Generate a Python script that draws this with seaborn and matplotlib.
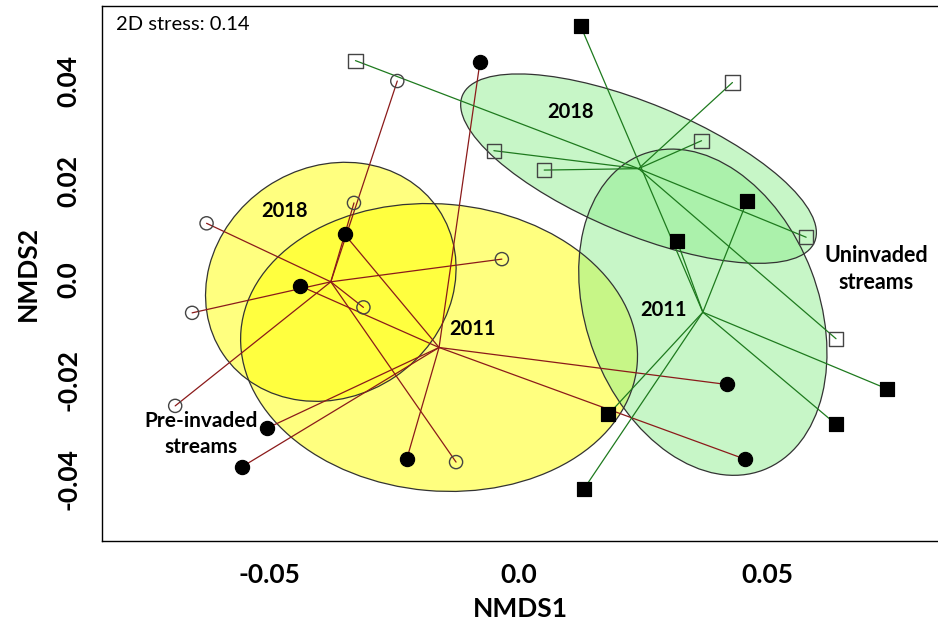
import numpy as np
import pandas as pd
import matplotlib
matplotlib.use("Agg")
import matplotlib.pyplot as plt
from matplotlib.patches import Ellipse
import seaborn as sns

# Coordenadas NMDS
pre_2011_x = [-0.0077, -0.0349, -0.0438, -0.0505, -0.0554, -0.0224, 0.0419, 0.0455]
pre_2011_y = [0.0438, 0.0092, -0.0012, -0.0298, -0.0375, -0.0360, -0.0210, -0.0360]

pre_2018_x = [-0.0243, -0.0330, -0.0626, -0.0033, -0.0311, -0.0655, -0.0689, -0.0125]
pre_2018_y = [0.0400, 0.0155, 0.0114, 0.0042, -0.0055, -0.0066, -0.0253, -0.0366]

uni_2011_x = [0.0125, 0.0459, 0.0319, 0.0741, 0.0181, 0.0638, 0.0131]
uni_2011_y = [0.0511, 0.0158, 0.0078, -0.0219, -0.0270, -0.0290, -0.0421]

uni_2018_x = [-0.0327, -0.0049, 0.0052, 0.0430, 0.0368, 0.0578, 0.0638]
uni_2018_y = [0.0441, 0.0260, 0.0221, 0.0397, 0.0280, 0.0086, -0.0118]

x_ticks = [-0.05, 0.0, 0.05]
x_tick_labels = ["-0.05", "0.0", "0.05"]
y_ticks = [-0.04, -0.02, 0.0, 0.02, 0.04]
y_tick_labels = ["-0.04", "-0.02", "0.0", "0.02", "0.04"]

# Armar el DataFrame
frames = []
for stream, year, xs, ys in [("Pre-invaded", 2011, pre_2011_x, pre_2011_y),
                             ("Pre-invaded", 2018, pre_2018_x, pre_2018_y),
                             ("Uninvaded", 2011, uni_2011_x, uni_2011_y),
                             ("Uninvaded", 2018, uni_2018_x, uni_2018_y)]:
    frames.append(pd.DataFrame({"NMDS1": xs, "NMDS2": ys, "stream": stream, "year": year}))
df = pd.concat(frames, ignore_index=True)

sns.set_style("white")
plt.rcParams["font.family"] = ["Lato", "DejaVu Sans"]
plt.rcParams["text.color"] = "black"
plt.rcParams["axes.labelcolor"] = "black"

fig = plt.figure(figsize=(9.38, 6.25), dpi=100)
ax = fig.add_axes([0.1091, 0.1344, 0.8909, 0.856])

fill = {"Pre-invaded": "yellow", "Uninvaded": "#90EE90"}
spider = {"Pre-invaded": "#8B1A1A", "Uninvaded": "#1E7A1E"}

# Elipses de 1 desviacion estandar y lineas tipo "spider"
for (stream, year), g in df.groupby(["stream", "year"]):
    pts = g[["NMDS1", "NMDS2"]].to_numpy()
    cen = pts.mean(axis=0)
    cov = np.cov(pts.T)
    vals, vecs = np.linalg.eigh(cov)
    ang = np.degrees(np.arctan2(vecs[1, 1], vecs[0, 1]))
    ax.add_patch(Ellipse(cen, 2 * np.sqrt(vals[1]), 2 * np.sqrt(vals[0]), angle=ang,
                         facecolor=fill[stream], alpha=0.5, edgecolor="none", zorder=1))
    ax.add_patch(Ellipse(cen, 2 * np.sqrt(vals[1]), 2 * np.sqrt(vals[0]), angle=ang,
                         facecolor="none", edgecolor="#333333", linewidth=0.9, zorder=1.5))
    for px, py in pts:
        ax.plot([cen[0], px], [cen[1], py], color=spider[stream], linewidth=0.9, zorder=2)

# Puntos
sns.scatterplot(data=df[(df.stream == "Pre-invaded") & (df.year == 2011)], x="NMDS1", y="NMDS2",
                marker="o", color="black", s=105, edgecolor="black", ax=ax, zorder=3)
sns.scatterplot(data=df[(df.stream == "Pre-invaded") & (df.year == 2018)], x="NMDS1", y="NMDS2",
                marker="o", facecolor="none", edgecolor="#444444", linewidth=1, s=90, ax=ax, zorder=3)
sns.scatterplot(data=df[(df.stream == "Uninvaded") & (df.year == 2011)], x="NMDS1", y="NMDS2",
                marker="s", color="black", s=115, edgecolor="black", ax=ax, zorder=3)
sns.scatterplot(data=df[(df.stream == "Uninvaded") & (df.year == 2018)], x="NMDS1", y="NMDS2",
                marker="s", facecolor="none", edgecolor="#444444", linewidth=1, s=105, ax=ax, zorder=3)

# Etiquetas de grupos
lab = dict(fontweight="bold", ha="center", va="center", color="black", zorder=4)
ax.text(-0.0470, 0.0139, "2018", fontsize=14.5, **lab)
ax.text(-0.0091, -0.0099, "2011", fontsize=14.5, **lab)
ax.text(-0.0638, -0.0310, "Pre-invaded\nstreams", fontsize=15, linespacing=1.35, **lab)
ax.text(0.0105, 0.0338, "2018", fontsize=14.5, **lab)
ax.text(0.0291, -0.0060, "2011", fontsize=14.5, **lab)
ax.text(0.0718, 0.0022, "Uninvaded\nstreams", fontsize=15.5, linespacing=1.35, **lab)
ax.text(0.0164, 0.966, "2D stress: 0.14", transform=ax.transAxes, fontsize=14.5,
        ha="left", va="center", color="black")

ax.set_xlim(-0.08353, 0.08428)
ax.set_ylim(-0.05246, 0.05508)
ax.set_xticks(x_ticks)
ax.set_xticklabels(x_tick_labels, fontsize=19, fontweight="bold")
ax.set_yticks(y_ticks)
ax.set_yticklabels(y_tick_labels, fontsize=19, fontweight="bold", rotation=90, va="center")
ax.tick_params(axis="both", length=6, width=0.8, color="#555555", labelcolor="black",
               direction="out")
ax.tick_params(axis="x", pad=10)
ax.tick_params(axis="y", pad=10)

ax.set_xlabel("NMDS1", fontsize=19, fontweight="bold")
ax.set_ylabel("NMDS2", fontsize=19, fontweight="bold")
ax.xaxis.label.set_va("center")
ax.yaxis.label.set_va("center")
ax.xaxis.set_label_coords(0.5, -0.128)
ax.yaxis.set_label_coords(-0.089, 0.5)

for side in ["left", "top", "bottom"]:
    ax.spines[side].set_color("black")
    ax.spines[side].set_linewidth(1.0)
ax.spines["right"].set_visible(False)

fig.savefig("out.png", dpi=100)
